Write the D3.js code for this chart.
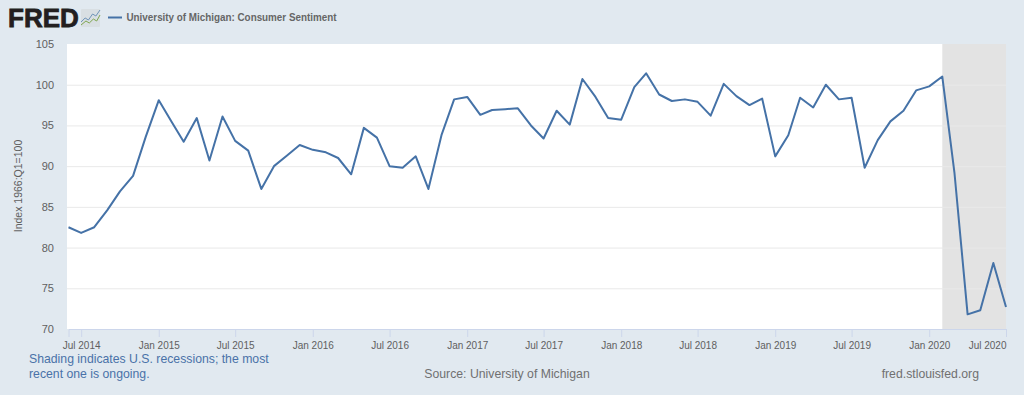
<!DOCTYPE html>
<html>
<head>
<meta charset="utf-8">
<script src="https://cdn.jsdelivr.net/npm/d3@7"></script>
<style>
  html, body { margin: 0; padding: 0; background: #e1e9f0; }
  svg { display: block; font-family: "Liberation Sans", Arial, sans-serif; }
</style>
</head>
<body>
<div id="chart"></div>
<script>
// monthly values, first point is Jun 2014
const startMonth = "2014-06-01";
const sentiment = [
  82.5, 81.8, 82.5, 84.6, 86.9, 88.8, 93.6,
  98.1, 95.4, 93.0, 95.9, 90.7, 96.1, 93.1, 91.9, 87.2, 90.0, 91.3, 92.6,
  92.0, 91.7, 91.0, 89.0, 94.7, 93.5, 90.0, 89.8, 91.2, 87.2, 93.8, 98.2,
  98.5, 96.3, 96.9, 97.0, 97.1, 95.0, 93.4, 96.8, 95.1, 100.7, 98.5, 95.9,
  95.7, 99.7, 101.4, 98.8, 98.0, 98.2, 97.9, 96.2, 100.1, 98.6, 97.5, 98.3,
  91.2, 93.8, 98.4, 97.2, 100.0, 98.2, 98.4, 89.8, 93.2, 95.5, 96.8, 99.3,
  99.8, 101.0, 89.1, 71.8, 72.3, 78.1, 72.7
];
const yTicks = [70, 75, 80, 85, 90, 95, 100, 105];
const xTickDates = [
  "2014-07-01", "2015-01-01", "2015-07-01", "2016-01-01", "2016-07-01",
  "2017-01-01", "2017-07-01", "2018-01-01", "2018-07-01", "2019-01-01",
  "2019-07-01", "2020-01-01", "2020-07-01"
];
const recession = ["2020-02-01", "2020-07-01"];
const seriesName = "University of Michigan: Consumer Sentiment";
// logo sparklines, in icon units
const logoBlue = [[0, 13], [5, 9], [9, 11], [14, 5], [18, 7], [23, 1]];
const logoGreen = [[0, 16], [6, 12], [10, 14], [15, 10], [19, 12], [23, 6]];

const W = 1024, H = 395;
const margin = { top: 44, right: 18, bottom: 66, left: 67 };
const parse = d3.utcParse("%Y-%m-%d");
const fmtMonth = d3.utcFormat("%b %Y");

const rows = sentiment.map((v, i) => ({
  date: d3.utcMonth.offset(parse(startMonth), i),
  value: v
}));

// first point sits a little inside the plot's left edge
const x = d3.scaleUtc()
  .domain(d3.extent(rows, d => d.date))
  .range([margin.left + 1.5, W - margin.right]);
const y = d3.scaleLinear()
  .domain([70, 105])
  .range([H - margin.bottom, margin.top]);

const svg = d3.select("#chart").append("svg")
  .attr("width", W).attr("height", H)
  .attr("viewBox", `0 0 ${W} ${H}`);

svg.append("rect").attr("width", W).attr("height", H).attr("fill", "#e1e9f0");
svg.append("rect")
  .attr("x", margin.left).attr("y", margin.top)
  .attr("width", W - margin.left - margin.right)
  .attr("height", H - margin.top - margin.bottom)
  .attr("fill", "#fff");

// recession band
svg.append("rect")
  .attr("x", x(parse(recession[0]))).attr("y", margin.top)
  .attr("width", x(parse(recession[1])) - x(parse(recession[0])))
  .attr("height", H - margin.top - margin.bottom)
  .attr("fill", "#e3e3e3");

// grid
svg.append("g")
  .attr("transform", `translate(${margin.left},0)`)
  .call(d3.axisLeft(y).tickValues(yTicks.slice(1, -1)).tickSize(-(W - margin.left - margin.right)).tickFormat(""))
  .call(s => s.select(".domain").remove())
  .selectAll("line").attr("stroke", "#e9e9e9").attr("stroke-width", 1);

// y axis labels
svg.append("g")
  .attr("transform", `translate(${margin.left},0)`)
  .call(d3.axisLeft(y).tickValues(yTicks).tickSize(0).tickPadding(13))
  .call(s => s.select(".domain").remove())
  .selectAll("text")
  .attr("font-family", "Liberation Sans, Arial, sans-serif")
  .attr("font-size", 11).attr("fill", "#606060");

// x axis
const xAxis = svg.append("g")
  .attr("transform", `translate(0,${H - margin.bottom})`)
  .call(d3.axisBottom(x).tickValues(xTickDates.map(parse)).tickSize(8).tickPadding(5).tickFormat(fmtMonth));
xAxis.select(".domain").attr("stroke", "#ccd6eb");
xAxis.selectAll("line").attr("stroke", "#ccd6eb");
xAxis.selectAll("text")
  .attr("font-family", "Liberation Sans, Arial, sans-serif")
  .attr("font-size", 10).attr("fill", "#606060");
xAxis.selectAll(".tick:last-of-type text").attr("text-anchor", "end");

// series
const line = d3.line().x(d => x(d.date)).y(d => y(d.value));
svg.append("path").datum(rows)
  .attr("fill", "none").attr("stroke", "#4572a7").attr("stroke-width", 2)
  .attr("stroke-linejoin", "round")
  .attr("d", line);

// y title
svg.append("text")
  .attr("transform", "translate(21.5,186) rotate(-90)")
  .attr("text-anchor", "middle")
  .attr("font-size", 10.5).attr("fill", "#606060")
  .text("Index 1966:Q1=100");

// logo
svg.append("text")
  .attr("x", 8).attr("y", 27)
  .attr("font-size", 26).attr("font-weight", "bold")
  .attr("stroke", "#231f20").attr("stroke-width", 0.8)
  .attr("fill", "#231f20")
  .text("FRED");
const icon = svg.append("g").attr("transform", "translate(81,9)");
icon.append("rect").attr("width", 19).attr("height", 18).attr("rx", 1).attr("fill", "#d9dfe3");
const iconX = d3.scaleLinear().domain([0, 23]).range([0, 19]);
const iconY = d3.scaleLinear().domain([0, 18]).range([0, 18]);
const iconLine = d3.line().x(d => iconX(d[0])).y(d => iconY(d[1]));
icon.append("path").attr("d", iconLine(logoBlue)).attr("fill", "none").attr("stroke", "#6f94b8").attr("stroke-width", 1);
icon.append("path").attr("d", iconLine(logoGreen)).attr("fill", "none").attr("stroke", "#7fa650").attr("stroke-width", 1);

// legend
svg.append("line")
  .attr("x1", 108).attr("x2", 122).attr("y1", 17.5).attr("y2", 17.5)
  .attr("stroke", "#4572a7").attr("stroke-width", 2);
svg.append("text")
  .attr("x", 126.5).attr("y", 21)
  .attr("font-size", 10.5).attr("font-weight", "bold").attr("fill", "#666")
  .attr("textLength", 224).attr("lengthAdjust", "spacingAndGlyphs")
  .attr("textLength", 210)
  .text(seriesName);

// footer
const note = svg.append("g").attr("font-size", 12.25).attr("fill", "#4a72a8");
note.append("text").attr("x", 29).attr("y", 362.5).text("Shading indicates U.S. recessions; the most");
note.append("text").attr("x", 29).attr("y", 377.5).text("recent one is ongoing.");
svg.append("text")
  .attr("x", 507).attr("y", 377.5).attr("text-anchor", "middle")
  .attr("font-size", 12.25).attr("fill", "#707070")
  .text("Source: University of Michigan");
svg.append("text")
  .attr("x", 979).attr("y", 377.5).attr("text-anchor", "end")
  .attr("font-size", 12.25).attr("fill", "#707070")
  .text("fred.stlouisfed.org");
</script>
</body>
</html>
